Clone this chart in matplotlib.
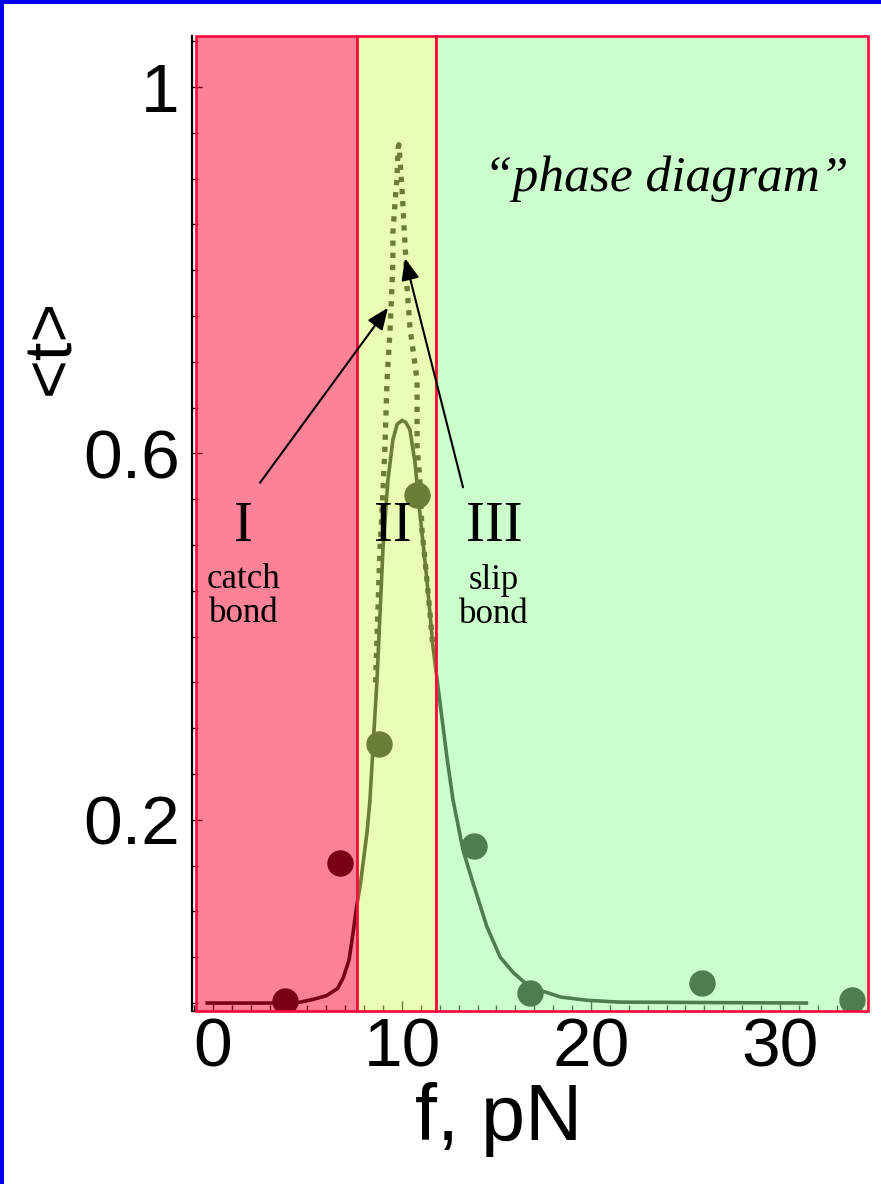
import numpy as np
import matplotlib.pyplot as plt
from matplotlib.patches import Rectangle
from matplotlib.ticker import FixedLocator, MultipleLocator, FixedFormatter

# force f (pN) and mean lifetime <t>, read from the fitted model and the measurements
curve_f = [-0.3, 4.4, 5.3, 6.0, 6.6, 6.9, 7.2, 7.4, 7.6, 7.8, 8.15, 8.3, 8.68, 8.84,
           9.0, 9.26, 9.52, 9.75, 10.0, 10.2, 10.42, 10.69, 10.95, 11.32, 11.64, 12.0,
           12.4, 12.7, 13.23, 13.76, 14.5, 15.2, 15.9, 16.8, 17.3, 18.4, 19.8, 21.5, 31.4]
curve_t = [0.0, 0.0, 0.004, 0.008, 0.016, 0.028, 0.047, 0.075, 0.105, 0.13, 0.186, 0.22,
           0.353, 0.426, 0.498, 0.571, 0.615, 0.632, 0.636, 0.634, 0.626, 0.59, 0.535,
           0.462, 0.389, 0.33, 0.265, 0.222, 0.167, 0.131, 0.083, 0.05, 0.033, 0.017,
           0.014, 0.0065, 0.003, 0.001, 0.0]

# sharper peak (dotted)
peak_f = [8.6, 8.84, 8.94, 9.10, 9.21, 9.37, 9.47, 9.52, 9.52, 9.63, 9.74, 9.79, 9.84,
          10.0, 10.1, 10.2, 10.26, 10.42, 10.8, 10.8, 10.95, 11.06, 11.32, 11.48, 11.64]
peak_t = [0.35, 0.498, 0.535, 0.607, 0.68, 0.735, 0.782, 0.811, 0.841, 0.873, 0.902,
          0.933, 0.937, 0.89, 0.851, 0.814, 0.784, 0.738, 0.68, 0.607, 0.571, 0.516,
          0.462, 0.426, 0.389]

data_f = [3.8, 6.7, 8.8, 10.8, 13.8, 16.8, 25.9, 33.8]
data_t = [0.002, 0.153, 0.283, 0.555, 0.171, 0.011, 0.022, 0.003]

# regimes: catch bond / transition / slip bond
region_edges = [-0.9, 7.62, 11.8, 34.66]
region_colors = [(249/255, 0, 43/255, 0.49),
                 (212/255, 254/255, 106/255, 0.5),
                 (153/255, 255/255, 153/255, 0.5)]

W, H = 881, 1184
fig = plt.figure(figsize=(W / 100, H / 100), dpi=100)
ax = fig.add_axes([192 / W, 1 - 1011 / H, (868 - 192) / W, (1011 - 36) / H])
ax.set_xlim(-1.11, 34.66)
ax.set_ylim(-0.0087, 1.0557)
ax.set_axisbelow(True)

ax.plot(curve_f, curve_t, color='black', lw=2.6, zorder=2)
ax.plot(peak_f, peak_t, color='black', lw=3.8, ls=(0, (1.0, 1.3)), zorder=2)
ax.plot(data_f, data_t, 'o', color='black', ms=18, zorder=2)

for x0, x1, c in zip(region_edges[:-1], region_edges[1:], region_colors):
    ax.add_patch(Rectangle((x0, 0), x1 - x0, 1, transform=ax.get_xaxis_transform(),
                           facecolor=c, edgecolor='#ff0a3c', lw=1.9,
                           zorder=3, clip_on=False))

for s in ['top', 'right']:
    ax.spines[s].set_visible(False)
ax.spines['left'].set_linewidth(1.6)
ax.spines['bottom'].set_linewidth(1.0)

ax.xaxis.set_major_locator(FixedLocator([0, 10, 20, 30]))
ax.xaxis.set_minor_locator(MultipleLocator(1))
ax.yaxis.set_major_locator(FixedLocator([0.2, 0.6, 1.0]))
ax.yaxis.set_major_formatter(FixedFormatter(['0.2', '0.6', '1']))
ax.yaxis.set_minor_locator(MultipleLocator(0.05))
ax.tick_params(which='both', direction='in', color='black', width=1)
ax.tick_params(which='major', length=7)
ax.tick_params(which='minor', length=4)
ax.tick_params(axis='y', pad=9)
ax.tick_params(axis='x', pad=4)
for lab in ax.get_xticklabels() + ax.get_yticklabels():
    lab.set_fontfamily('Liberation Sans')
    lab.set_fontsize(50)

# arrows pointing at the two curves
arrow = dict(arrowstyle='-|>,head_length=0.6,head_width=0.25', color='black',
             lw=1.5, mutation_scale=22, shrinkA=0, shrinkB=0)
ax.annotate('', xy=(9.26, 0.759), xytext=(2.49, 0.568), arrowprops=arrow, zorder=5)
ax.annotate('', xy=(10.16, 0.813), xytext=(13.23, 0.563), arrowprops=arrow, zorder=5)

serif = 'Liberation Serif'
ax.text(1.59, 0.52, 'I', family=serif, fontsize=41, ha='center', va='center', zorder=5)
ax.text(9.52, 0.52, 'II', family=serif, fontsize=41, ha='center', va='center', zorder=5)
ax.text(14.87, 0.52, 'III', family=serif, fontsize=41, ha='center', va='center', zorder=5)
ax.text(1.64, 0.444, 'catch\nbond', family=serif, fontsize=25, ha='center', va='center',
        linespacing=1.05, zorder=5)
ax.text(14.87, 0.443, 'slip\nbond', family=serif, fontsize=25, ha='center', va='center',
        linespacing=1.05, zorder=5)
ax.text(24.0, 0.90, '\u201cphase diagram\u201d', family=serif, style='italic',
        fontsize=37, ha='center', va='center', zorder=5)

fig.text(52 / W, 1 - 347 / H, '<t>', family='Liberation Sans', fontsize=48,
         rotation=90, ha='center', va='center')
fig.text(499 / W, 1 - 1140 / H, 'f, pN', family='Liberation Sans', fontsize=57,
         ha='center', va='baseline')

# slide frame
fig.add_artist(Rectangle((0, 1 - 4 / H), 1, 4 / H, transform=fig.transFigure,
                         color='#0000ee', lw=0))
fig.add_artist(Rectangle((0, 0), 4 / W, 1, transform=fig.transFigure,
                         color='#0000ee', lw=0))

fig.savefig('out.png', dpi=100)
